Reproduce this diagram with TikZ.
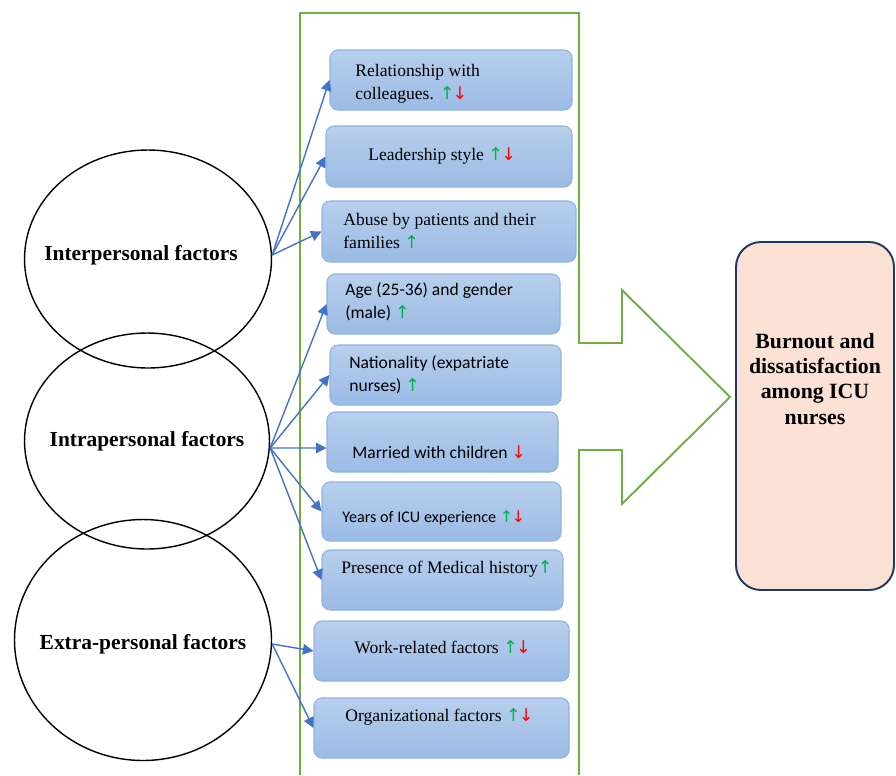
\documentclass[tikz,border=0pt]{standalone}
\usepackage{fontspec}
\setmainfont{Liberation Serif}
\newfontfamily\calibri{Carlito}
\newfontfamily\arrowfont{DejaVu Sans}
\usetikzlibrary{shapes.geometric,arrows.meta,fit}

\definecolor{framegreen}{HTML}{70AD47}
\definecolor{linkblue}{HTML}{4472C4}
\definecolor{boxtop}{HTML}{B8CFEC}
\definecolor{boxbot}{HTML}{9BBBE5}
\definecolor{boxedge}{HTML}{8DB3E2}
\definecolor{outfill}{HTML}{FBE2D5}
\definecolor{outedge}{HTML}{203864}
\definecolor{upgreen}{HTML}{00B050}
\definecolor{dnred}{HTML}{FF0000}

\newcommand\upar{{\arrowfont\color{upgreen}↑}}
\newcommand\dnar{{\arrowfont\color{dnred}↓}}
\newcommand\updn{\upar\kern-1pt\dnar}

\tikzset{
    factor/.style={draw=black,thick,ellipse,inner sep=0pt},
    factortext/.style={inner sep=0pt,font=\fontsize{12.2}{14}\selectfont\bfseries},
    itembox/.style={draw=boxedge,line width=0.6pt,rounded corners=0.16cm,top color=boxtop,bottom color=boxbot,inner sep=0pt},
    itemtext/.style={anchor=west,align=left,inner sep=0pt,font=\fontsize{10}{13}\selectfont},
    sanstext/.style={itemtext,font=\fontsize{10}{13}\selectfont\calibri},
    link/.style={draw=linkblue,line width=0.8pt,-{Triangle[length=6pt,width=6pt]}},
}

\begin{document}
\begin{tikzpicture}[x=0.02cm,y=-0.02cm]
        \useasboundingbox (0,0) rectangle (896,775);
        
        % Rahmenpfeil
        \draw[framegreen,line width=1.1pt] (300,775) -- (300,13) -- (579,13) -- (579,343) -- (622,343) -- (622,290)
            -- (730,397) -- (622,504) -- (622,450) -- (579,450) -- (579,775);
        
        % Ergebnis
        \node[draw=outedge,line width=1.1pt,fill=outfill,rounded corners=0.5cm,inner sep=0pt,fit={(736,242) (894,590)}] (burnout) {};
        \node[align=center,font=\fontsize{12.4}{14.3}\selectfont\bfseries] (burntext) at (815,379) {Burnout and\\dissatisfaction\\among ICU\\nurses};
        
        % Faktoren
        \node[factor,minimum width=4.94cm,minimum height=4.36cm] (inter) at (148,259) {};
        \node[factor,minimum width=4.9cm,minimum height=4.32cm] (intra) at (147,441) {};
        \node[factor,minimum width=5.14cm,minimum height=4.82cm] (extra) at (143,640) {};
        \node[factortext] (intertext) at (141,255) {Interpersonal factors};
        \node[factortext] (intratext) at (147,441) {Intrapersonal factors};
        \node[factortext] (extratext) at (143,644) {Extra-personal factors};
        \coordinate (interhub) at ([yshift=0.08cm]inter.east);
        \coordinate (intrahub) at ([yshift=-0.14cm]intra.east);
        \coordinate (extrahub) at ([yshift=-0.08cm]extra.east);
        
        % Kaesten
        \node[itembox,fit={(330,50) (572,110)}] (rel) {};
        \node[itembox,fit={(326,126) (572,187)}] (lead) {};
        \node[itembox,fit={(322,201) (576,262)}] (abuse) {};
        \node[itembox,fit={(327,274) (560,334)}] (age) {};
        \node[itembox,fit={(330,345) (561,405)}] (nation) {};
        \node[itembox,fit={(327,412) (558,472)}] (married) {};
        \node[itembox,fit={(322,482) (561,541)}] (years) {};
        \node[itembox,fit={(322,550) (563,610)}] (medical) {};
        \node[itembox,fit={(314,621) (569,681)}] (work) {};
        \node[itembox,fit={(314,698) (569,758)}] (organ) {};
        
        \node[itemtext] (reltext) at (355,84) {Relationship with\\colleagues. \updn};
        \node[itemtext] (leadtext) at (368,156) {Leadership style \updn};
        \node[itemtext] (abusetext) at (343,231) {Abuse by patients and their\\families \upar};
        \node[sanstext] (agetext) at (345,302) {Age (25-36) and gender\\(male) \upar};
        \node[sanstext] (nationtext) at (349,375) {Nationality (expatriate\\nurses) \upar};
        \node[sanstext] (marriedtext) at (352,452) {Married with children \dnar};
        \node[sanstext,font=\fontsize{9.2}{11}\selectfont\calibri] (yearstext) at (342,518) {Years of ICU experience \updn};
        \node[itemtext] (medicaltext) at (341,569) {Presence of Medical history\upar};
        \node[itemtext] (worktext) at (354,647) {Work-related factors \updn};
        \node[itemtext] (organtext) at (345,717) {Organizational factors \updn};
        
        % Verbindungen
        \draw[link] (interhub) -- (rel.west);
        \draw[link] (interhub) -- (lead.west);
        \draw[link] (interhub) -- (abuse.west);
        
        \draw[link] (intrahub) -- (age.west);
        \draw[link] (intrahub) -- (nation.west);
        \draw[link] (intrahub) -- ([yshift=-0.12cm]married.west);
        \draw[link] (intrahub) -- (years.west);
        \draw[link] (intrahub) -- (medical.west);
        
        \draw[link] (extrahub) -- (work.west);
        \draw[link] (extrahub) -- (organ.west);
    \end{tikzpicture}
\end{document}
